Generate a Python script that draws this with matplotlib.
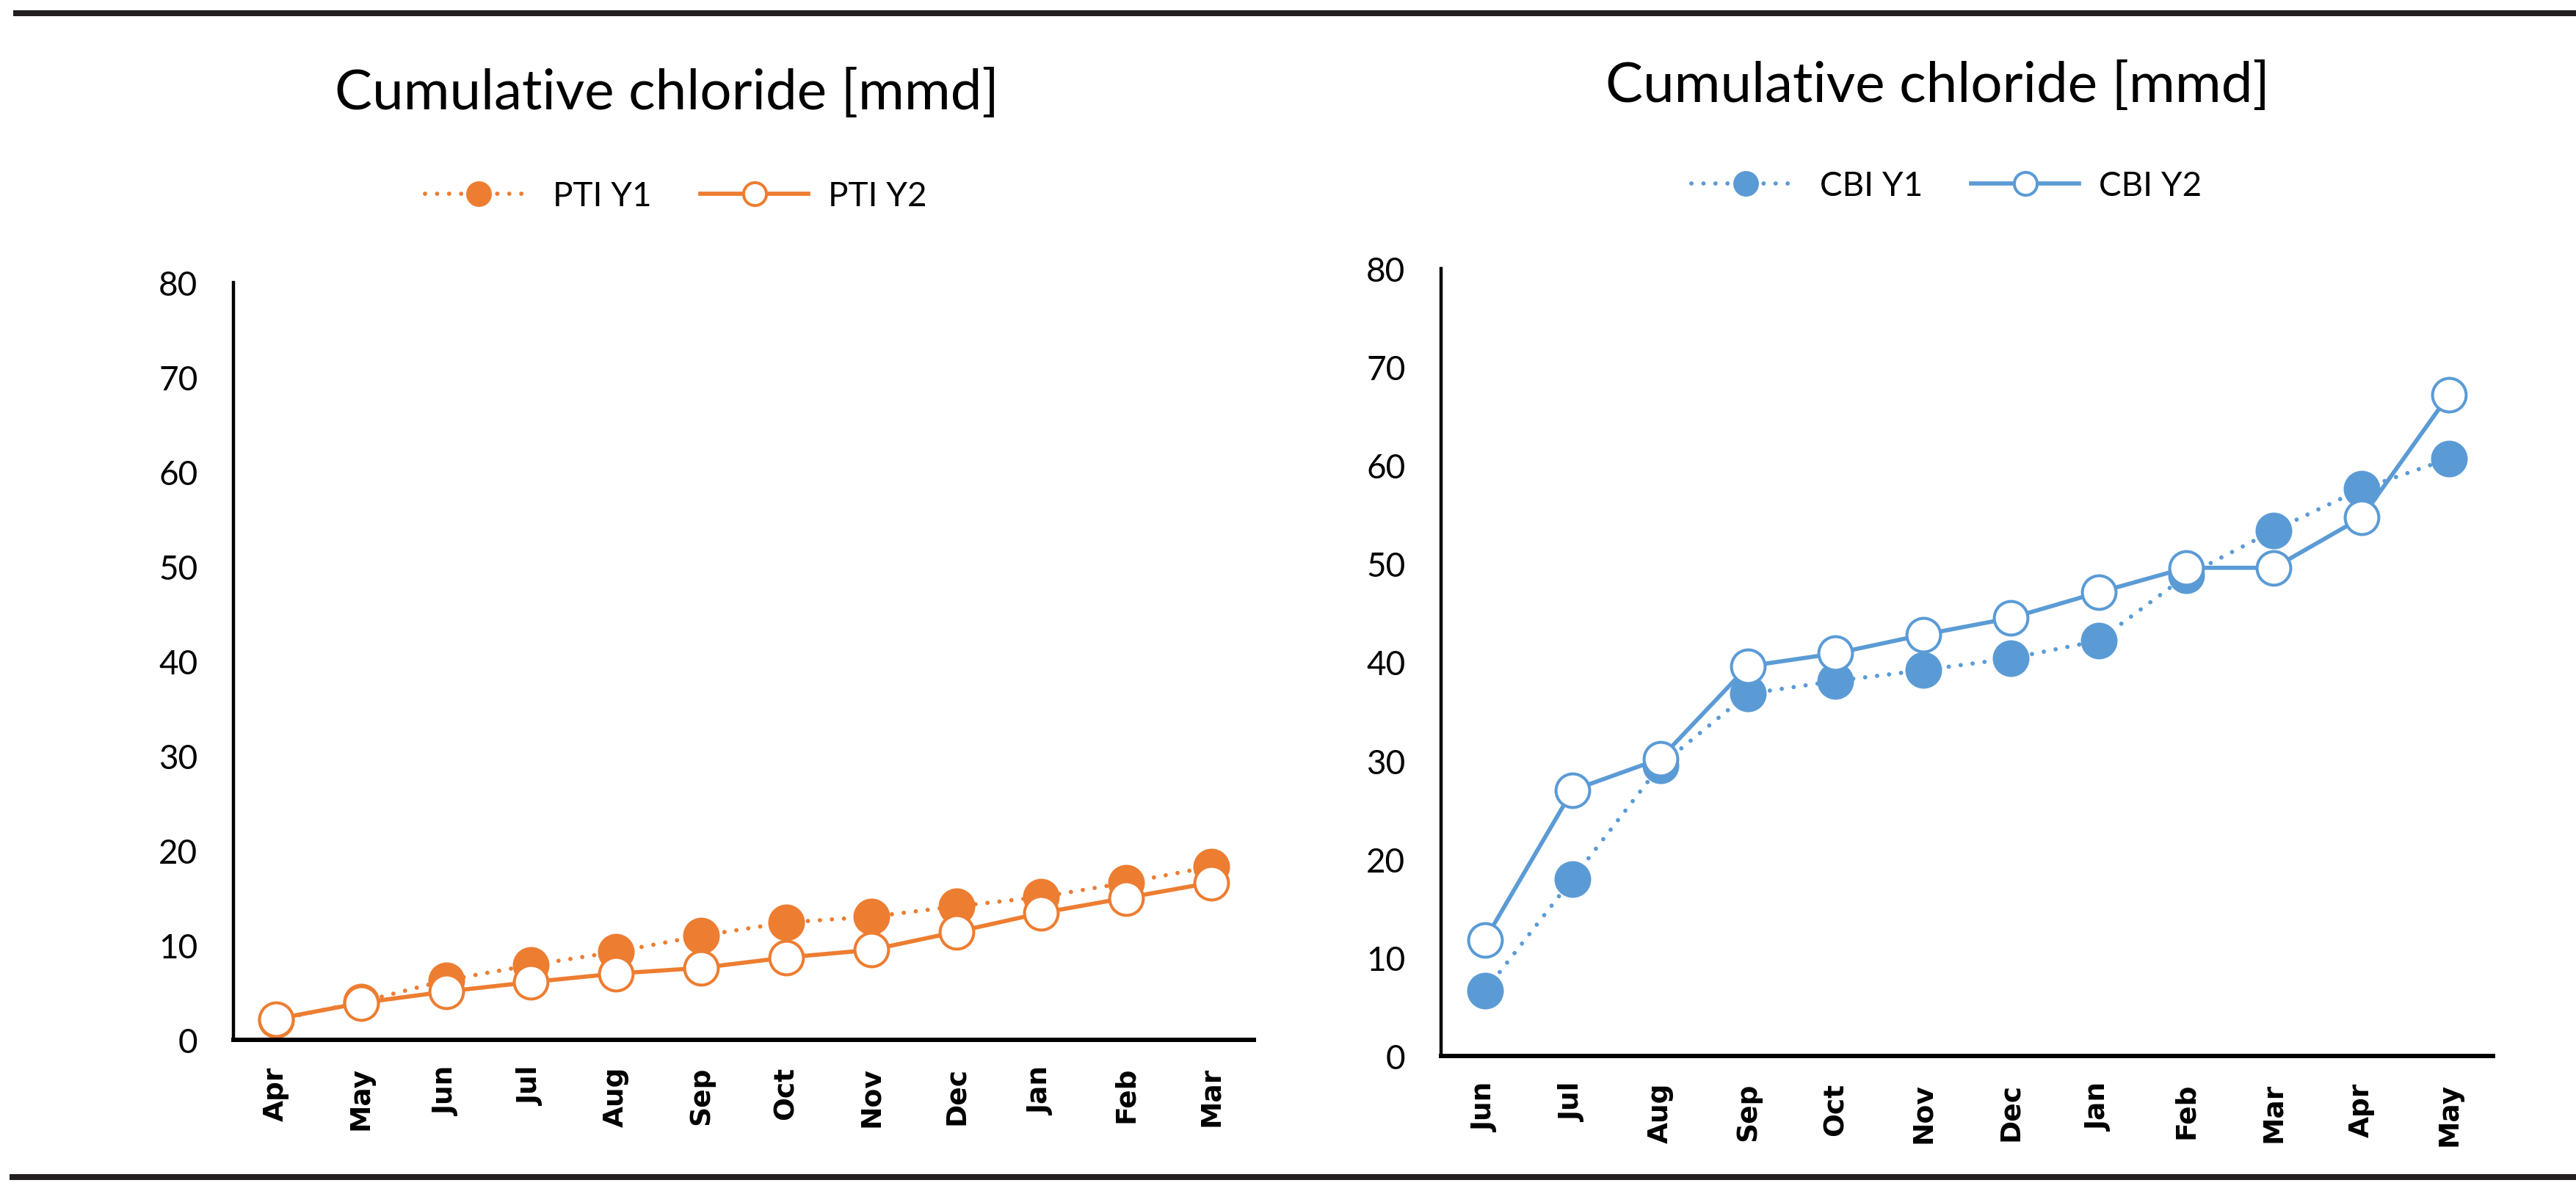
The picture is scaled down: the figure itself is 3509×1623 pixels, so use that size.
import matplotlib
matplotlib.use('Agg')
from matplotlib import pyplot as plt
from matplotlib.lines import Line2D

# datos
meses_pti = ['Apr', 'May', 'Jun', 'Jul', 'Aug', 'Sep', 'Oct', 'Nov', 'Dec', 'Jan', 'Feb', 'Mar']
pti_y1 = [2.1, 4.0, 6.3, 7.9, 9.3, 11.0, 12.4, 13.0, 14.1, 15.1, 16.6, 18.3]
pti_y2 = [2.2, 3.9, 5.1, 6.1, 7.0, 7.6, 8.7, 9.5, 11.4, 13.4, 15.0, 16.6]

meses_cbi = ['Jun', 'Jul', 'Aug', 'Sep', 'Oct', 'Nov', 'Dec', 'Jan', 'Feb', 'Mar', 'Apr', 'May']
cbi_y1 = [6.6, 18.0, 29.5, 36.8, 38.1, 39.2, 40.4, 42.2, 48.8, 53.4, 57.6, 60.7]
cbi_y2 = [11.8, 27.0, 30.2, 39.6, 40.9, 42.8, 44.5, 47.1, 49.6, 49.6, 54.7, 67.2]

titulo = 'Cumulative chloride [mmd]'
etiquetas_pti = ['PTI Y1', 'PTI Y2']
etiquetas_cbi = ['CBI Y1', 'CBI Y2']

NARANJA = '#ED7D31'
AZUL = '#5B9BD5'
W, H = 3509, 1624

fig = plt.figure(figsize=(W / 100, H / 100), dpi=100)
fig.patch.set_facecolor('white')


def caja(x0, x1, ytop, ybot):
    return [x0 / W, 1 - ybot / H, (x1 - x0) / W, (ybot - ytop) / H]


def dibujar(ax, meses, y1, y2, color, etiquetas, tx, ty, lx, ly):
    x = range(len(meses))
    ax.plot(x, y1, color=color, lw=4.2, linestyle=(0, (0.01, 2.8)),
            dash_capstyle='round',
            marker='o', markersize=34, markerfacecolor=color,
            markeredgecolor=color, markeredgewidth=2,
            label=etiquetas[0], zorder=3)
    ax.plot(x, y2, color=color, lw=4.1, linestyle='-',
            marker='o', markersize=33, markerfacecolor='white',
            markeredgecolor=color, markeredgewidth=2.9,
            label=etiquetas[1], zorder=4)
    ax.set_xlim(-0.5, len(meses) - 0.5)
    ax.set_ylim(0, 80)
    ax.set_yticks(range(0, 81, 10))
    ax.set_xticks(list(x))
    ax.set_xticklabels(meses, rotation=90, fontfamily='DejaVu Sans',
                       fontweight='bold', fontsize=27, va='top')
    for t in ax.get_yticklabels():
        t.set_fontfamily('Lato')
        t.set_fontsize(33)
    ax.tick_params(axis='both', length=0)
    ax.tick_params(axis='y', pad=35)
    ax.tick_params(axis='x', pad=26)
    for s in ['top', 'right']:
        ax.spines[s].set_visible(False)
    ax.spines['left'].set_linewidth(3.2)
    ax.spines['bottom'].set_linewidth(4.3)
    ax.spines['left'].set_color('black')
    ax.spines['bottom'].set_color('black')
    ax.patch.set_alpha(0)
    for sp in ax.spines.values():
        sp.set_zorder(5)
    for l in ax.lines:
        l.set_clip_on(False)
    fig.text(tx / W, 1 - ty / H, titulo, ha='center', va='center',
             fontfamily='Lato', fontsize=55)
    ax.legend(loc='center', bbox_to_anchor=(lx / W, 1 - ly / H),
              bbox_transform=fig.transFigure, ncol=2, frameon=False,
              prop={'family': 'Lato', 'size': 33}, handlelength=3.2,
              handletextpad=0.6, columnspacing=1.45, markerscale=0.68)


ax1 = fig.add_axes(caja(318, 1708, 386, 1418))
dibujar(ax1, meses_pti, pti_y1, pti_y2, NARANJA, etiquetas_pti, 908, 127, 921, 268)

ax2 = fig.add_axes(caja(1963, 3396, 367, 1440))
dibujar(ax2, meses_cbi, cbi_y1, cbi_y2, AZUL, etiquetas_cbi, 2639, 117, 2652, 254)

# lineas de marco superior e inferior
fig.add_artist(Line2D([22 / W, 1], [1 - 19 / H, 1 - 19 / H], color='#231F20',
                      lw=5.8, transform=fig.transFigure))
fig.add_artist(Line2D([17 / W, 1], [1 - 1605 / H, 1 - 1605 / H], color='#231F20',
                      lw=5.8, transform=fig.transFigure))

fig.savefig('out.png', dpi=100)
